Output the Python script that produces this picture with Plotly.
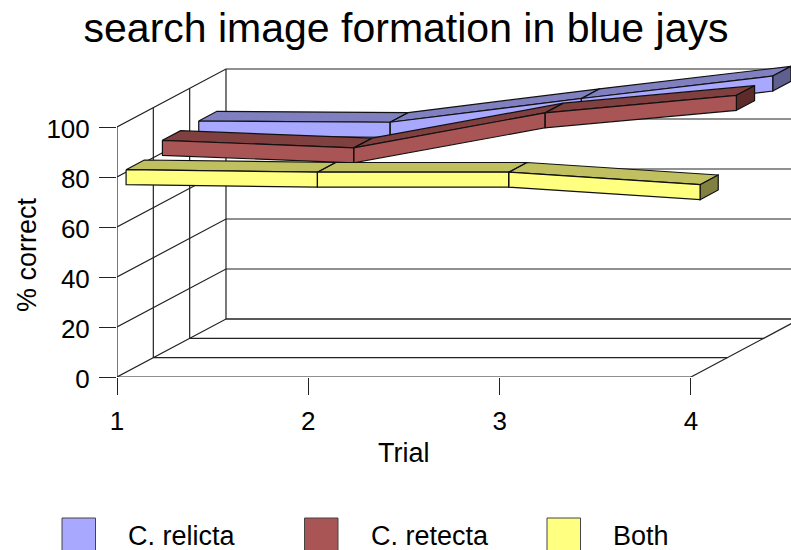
import plotly.graph_objects as go

# Survey results: percent correct per trial
trials = [1, 2, 3, 4]
c_relicta = [82, 81.5, 91, 100]
c_retecta = [82, 79, 93, 100]
both = [78, 77, 77, 72]
series_names = ["C. relicta", "C. retecta", "Both"]
y_ticks = [0, 20, 40, 60, 80, 100]

# Plot-area scale, pixels per data unit
W, H = 791, 550
LEFT, BOTTOM = 117, 173
PX_X, PX_Y = 191.33, 2.5

# Oblique projection: one depth slot moves a point right and up
DX = 36.33 / PX_X
DY = 19.33 / PX_Y
SLOTS = 3
RIBBON_FRONT, RIBBON_BACK = 0.25, 0.75
HALF_THICK = 3.0
INK = "#111111"
GRID = "#222222"
TEXT_SIZE = 27
TICK_SIZE = 26


def proj(t, v, depth):
    return t + depth * DX, v + depth * DY


def path(points):
    xs, ys = [], []
    for p in points:
        x, y = proj(*p)
        xs.append(x)
        ys.append(y)
    return xs, ys


def join(polys):
    xs, ys = [], []
    for poly in polys:
        px, py = path(poly)
        xs += px + [px[0], None]
        ys += py + [py[0], None]
    return xs, ys


fig = go.Figure()

# Walls and floor of the box
last = trials[-1]
wall_right = last + SLOTS * DX + 0.3
gx, gy = [], []
for v in y_ticks:
    a = path([(trials[0], v, 0), (trials[0], v, SLOTS), (wall_right, v, SLOTS)])
    gx += a[0] + [None]
    gy += a[1] + [None]
for d in range(SLOTS + 1):
    a = path([(trials[0], 0, d), (trials[0], y_ticks[-1], d)])
    gx += a[0] + [None]
    gy += a[1] + [None]
    a = path([(trials[0], 0, d), (last, 0, d)])
    gx += a[0] + [None]
    gy += a[1] + [None]
a = path([(last, 0, 0), (last, 0, SLOTS + 0.1)])
gx += a[0] + [None]
gy += a[1] + [None]
fig.add_trace(go.Scatter(x=gx, y=gy, mode="lines", line=dict(color=GRID, width=1.2),
                         hoverinfo="skip", showlegend=False))

# Ribbons, back slot first so nearer ones overlap
ribbons = [
    (series_names[0], c_relicta, 2, "#A8A8FF", "#8080C0", "#606090"),
    (series_names[1], c_retecta, 1, "#AA5555", "#804040", "#5E2B2B"),
    (series_names[2], both, 0, "#FFFF80", "#C0C060", "#808040"),
]
for name, vals, slot, front, top, end in ribbons:
    d0, d1 = slot + RIBBON_FRONT, slot + RIBBON_BACK
    tops, fronts = [], []
    for i in range(len(trials) - 1):
        t0, t1 = trials[i], trials[i + 1]
        v0, v1 = vals[i], vals[i + 1]
        tops.append([(t0, v0 + HALF_THICK, d0), (t1, v1 + HALF_THICK, d0),
                     (t1, v1 + HALF_THICK, d1), (t0, v0 + HALF_THICK, d1)])
        fronts.append([(t0, v0 + HALF_THICK, d0), (t1, v1 + HALF_THICK, d0),
                       (t1, v1 - HALF_THICK, d0), (t0, v0 - HALF_THICK, d0)])
    cap = [[(last, vals[-1] + HALF_THICK, d0), (last, vals[-1] + HALF_THICK, d1),
            (last, vals[-1] - HALF_THICK, d1), (last, vals[-1] - HALF_THICK, d0)]]
    for polys, colour in ((tops, top), (cap, end), (fronts, front)):
        x, y = join(polys)
        fig.add_trace(go.Scatter(x=x, y=y, mode="lines", fill="toself", fillcolor=colour,
                                 line=dict(color=INK, width=1.2), name=name,
                                 hoverinfo="skip", showlegend=False))

PLOT_W, PLOT_H = W - LEFT, H - BOTTOM


def paper_x(px):
    return (px - LEFT) / PLOT_W


def paper_y(py):
    return (H - BOTTOM - py) / PLOT_H


# Key below the chart
shapes = []
annotations = []
key_items = [(series_names[0], 62, 182), (series_names[1], 304.5, 430), (series_names[2], 547, 641)]
swatches = ["#A8A8FF", "#AA5555", "#FFFF80"]
for (label, sx, tx), colour in zip(key_items, swatches):
    shapes.append(dict(type="rect", xref="paper", yref="paper",
                       x0=paper_x(sx), x1=paper_x(sx + 33.5),
                       y0=paper_y(518), y1=paper_y(560),
                       fillcolor=colour, line=dict(color="#444444", width=1)))
    annotations.append(dict(text=label, xref="paper", yref="paper", showarrow=False,
                            x=paper_x(tx), y=paper_y(536), xanchor="center", yanchor="middle",
                            font=dict(size=TEXT_SIZE)))

annotations.append(dict(text="Trial", xref="paper", yref="paper", showarrow=False,
                        x=paper_x(404), y=paper_y(453), xanchor="center", yanchor="middle",
                        font=dict(size=TEXT_SIZE)))
annotations.append(dict(text="% correct", xref="paper", yref="paper", showarrow=False,
                        x=paper_x(27), y=paper_y(255), xanchor="center", yanchor="middle",
                        textangle=-90, font=dict(size=TEXT_SIZE)))

fig.update_layout(
    width=W, height=H, autosize=False,
    margin=dict(l=LEFT, r=0, t=0, b=BOTTOM, pad=0),
    paper_bgcolor="white", plot_bgcolor="white",
    font=dict(family="Liberation Sans, Arial, sans-serif", color="black"),
    showlegend=False,
    title=dict(text="search image formation in blue jays", font=dict(size=41),
               x=406 / W, xanchor="center", y=1 - 28 / H, yanchor="middle"),
    shapes=shapes, annotations=annotations,
    xaxis=dict(range=[trials[0], trials[0] + PLOT_W / PX_X], tickvals=trials,
               ticks="outside", ticklen=17, tickcolor=GRID, tickwidth=1,
               showgrid=False, zeroline=False, showline=False,
               tickfont=dict(size=TICK_SIZE), ticklabelstandoff=4),
    yaxis=dict(range=[0, PLOT_H / PX_Y], tickvals=y_ticks,
               ticks="outside", ticklen=17, tickcolor=GRID, tickwidth=1,
               showgrid=False, zeroline=False, showline=False,
               tickfont=dict(size=TICK_SIZE), ticklabelstandoff=4, ticklabelshift=2),
)

fig.write_html("out.html")
